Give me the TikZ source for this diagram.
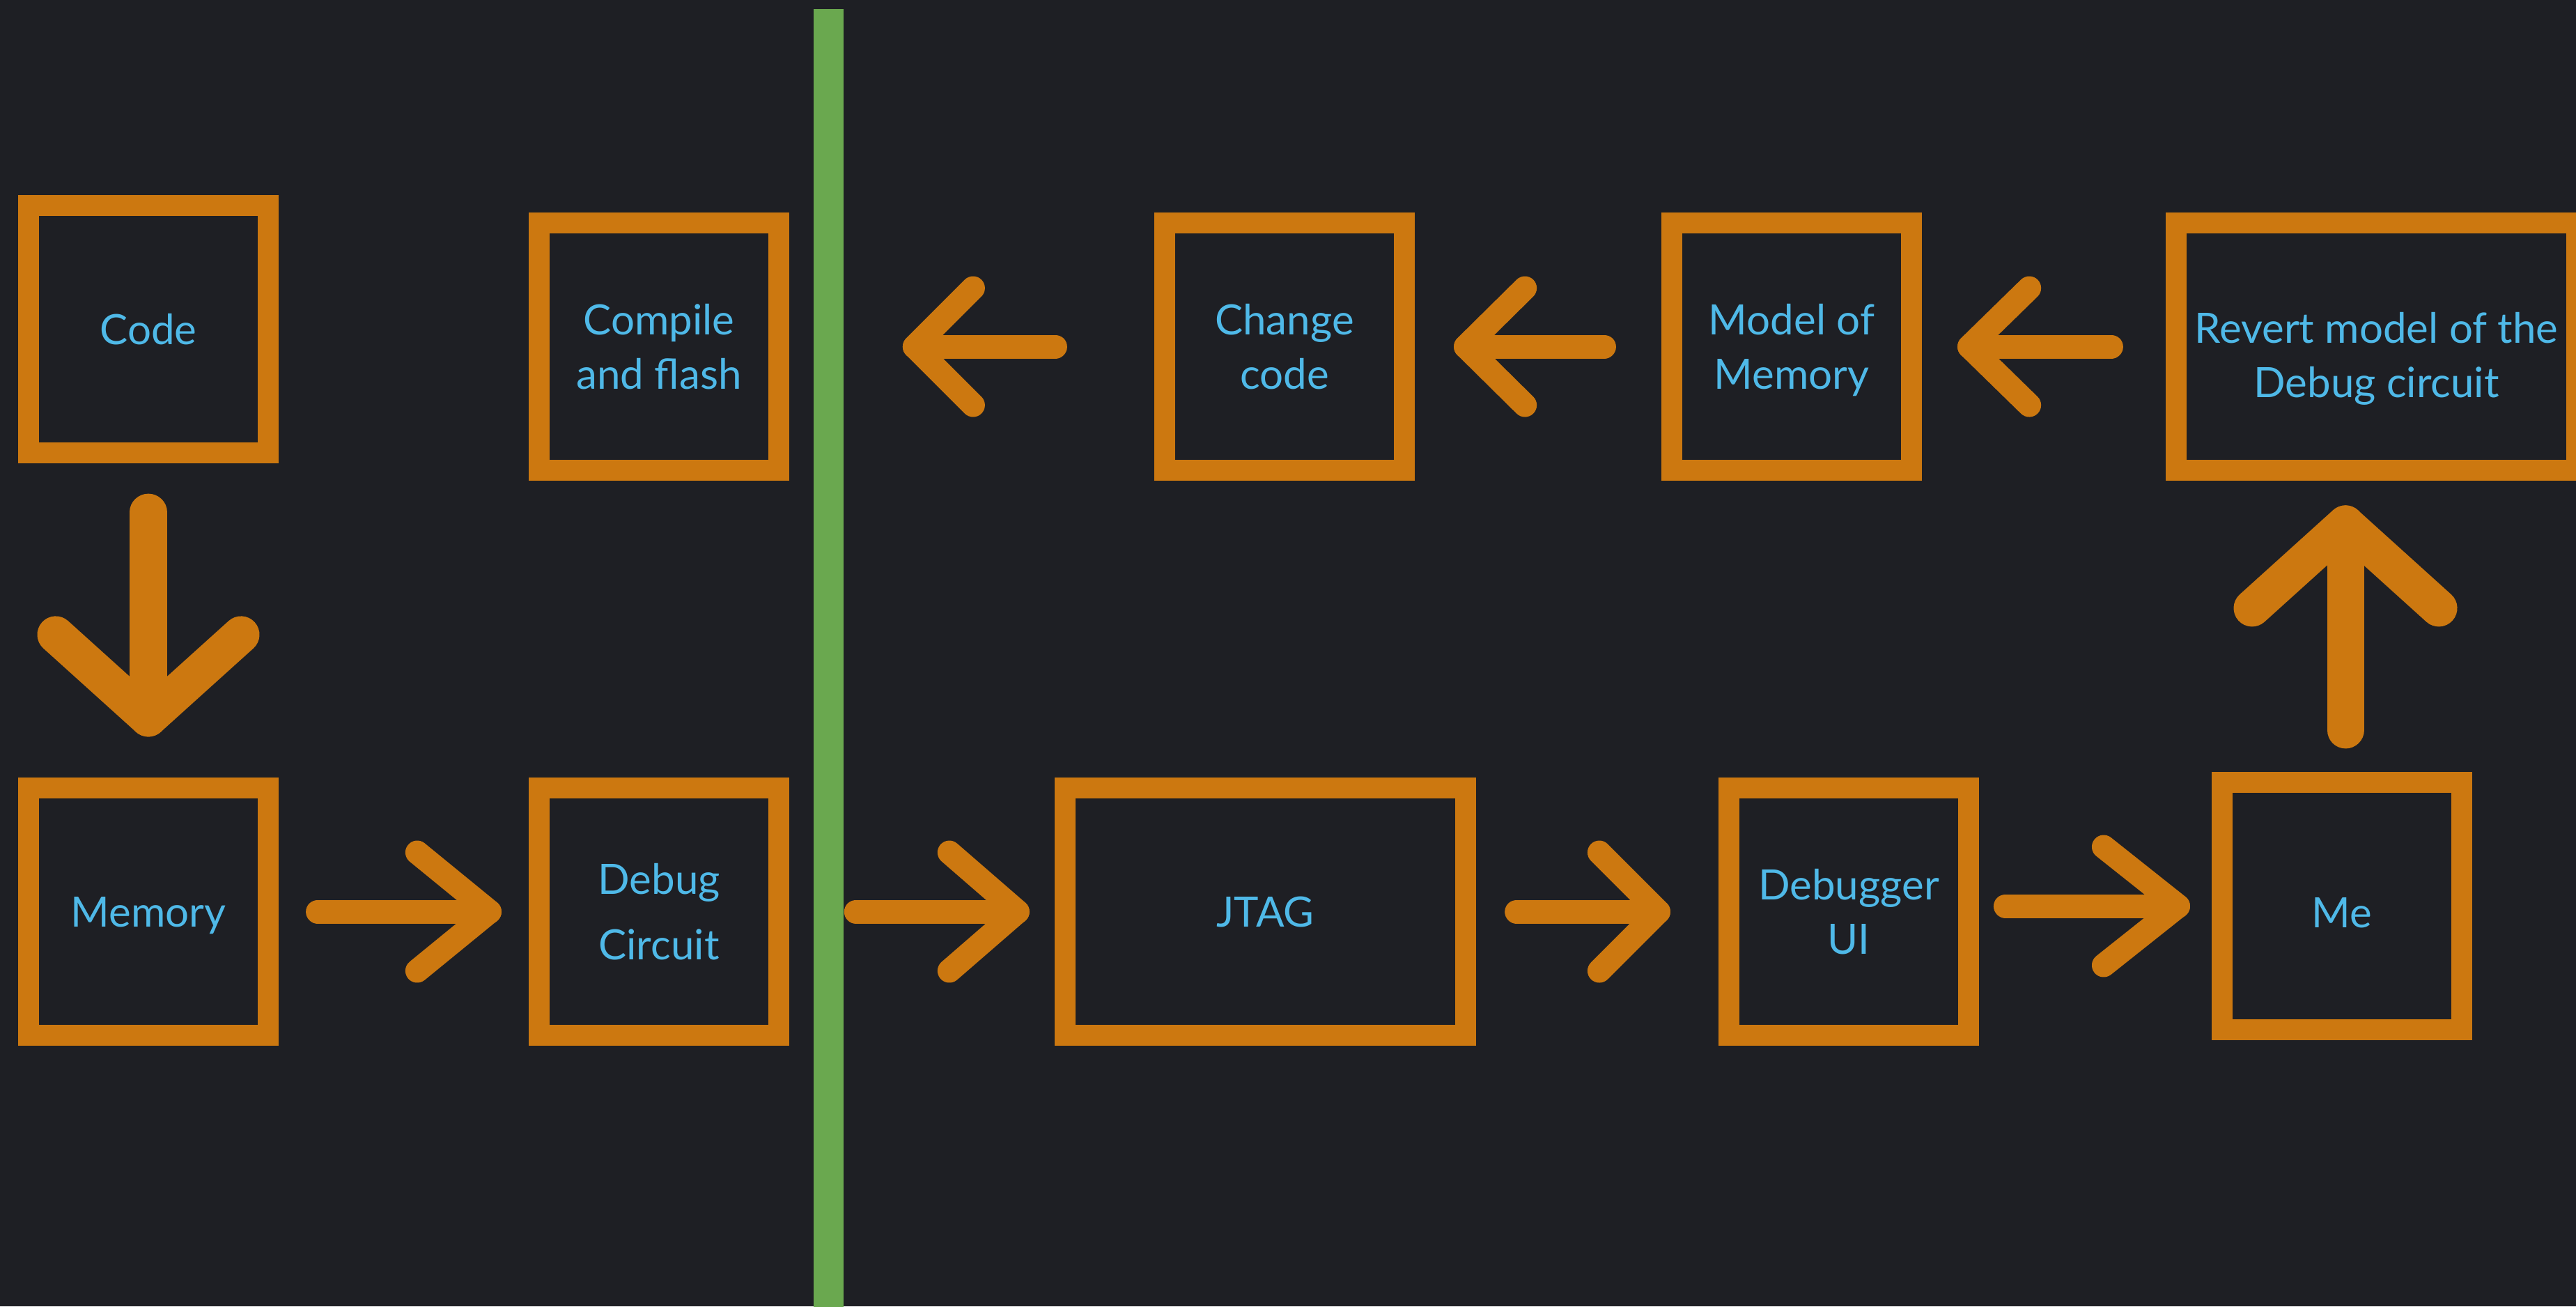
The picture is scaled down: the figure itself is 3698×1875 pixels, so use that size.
\documentclass[tikz,border=0pt]{standalone}
\usepackage{fontspec}
\setmainfont{Lato}
\usetikzlibrary{calc}
\definecolor{bg}{RGB}{30,31,36}
\definecolor{boxorange}{RGB}{204,120,16}
\definecolor{txtblue}{RGB}{79,185,232}
\definecolor{divgreen}{RGB}{106,168,79}
\begin{document}
\begin{tikzpicture}[x=0.01cm, y=-0.01cm,
  box/.style={draw=boxorange, line width=0.3cm, rectangle, inner sep=0pt, outer sep=0pt,
    minimum width=3.44cm, minimum height=3.55cm, text=txtblue, align=center,
    font=\fontsize{17.07pt}{22.19pt}\selectfont, text height=0.43cm, text depth=0cm},
  wide/.style={minimum width=5.75cm},
  two/.style={text height=1.21cm},
  harrow/.style={draw=boxorange, line width=0.34cm, line cap=round, line join=round},
  varrow/.style={draw=boxorange, line width=0.53cm, line cap=round, line join=round}]

\useasboundingbox (0,0) rectangle (3698,1875);
\fill[bg] (0,0) rectangle (3698,1875);
\clip (0,0) rectangle (3698,1875);

% divider
\fill[divgreen] (1168,13) rectangle (1211,1880);

% boxes
\node[box] (code) at (213,472.5) {Code};
\node[box,two] (compile) at (946,497.5) {Compile\\and flash};
\node[box,two] (change) at (1844,497.5) {Change\\code};
\node[box,two] (model) at (2572,497.5) {Model of\\Memory};
\node[box,wide,text height=1.46cm] (revert) at (3411.5,497.5) {Revert model of the\\Debug circuit};
\node[box] (memory) at (213,1308.5) {Memory};
\node[box,font=\fontsize{17.07pt}{26.75pt}\selectfont,text height=1.37cm] (dbgc) at (946,1308.5) {Debug\\Circuit};
\node[box,wide] (jtag) at (1816.5,1308.5) {JTAG};
\node[box,two] (dbgui) at (2654,1308.5) {Debugger\\UI};
\node[box,text height=0.62cm] (me) at (3362,1300.5) {Me};

% Code -> Memory (down)
\draw[varrow] ($(code.south)+(0,85)$) -- ($(memory.north)+(0,-100)$) coordinate (t6);
\draw[varrow] ($(t6)+(-133,-120)$) -- (t6) -- ($(t6)+(133,-120)$);

% Memory -> Debug Circuit
\draw[harrow] ($(memory.east)+(71,0)$) -- ($(dbgc.west)+(-71,0)$) coordinate (t1);
\draw[harrow] ($(t1)+(-104,-85)$) -- (t1) -- ($(t1)+(-104,85)$);

% -> JTAG
\draw[harrow] ($(jtag.west)+(-300,0)$) -- ($(jtag.west)+(-68,0)$) coordinate (t2);
\draw[harrow] ($(t2)+(-98,-85)$) -- (t2) -- ($(t2)+(-98,85)$);

% JTAG -> Debugger UI
\draw[harrow] ($(jtag.east)+(73,0)$) -- ($(dbgui.west)+(-101,0)$) coordinate (t3);
\draw[harrow] ($(t3)+(-85,-85)$) -- (t3) -- ($(t3)+(-85,85)$);

% Debugger UI -> Me
\draw[harrow] ($(me.west)+(-311,0)$) -- ($(me.west)+(-63,0)$) coordinate (t4);
\draw[harrow] ($(t4)+(-107,-85)$) -- (t4) -- ($(t4)+(-107,85)$);

% Me -> Revert (up)
\draw[varrow] ($(me.north)+(5,-75)$) -- ($(me.north)+(5,-371)$) coordinate (t5);
\draw[varrow] ($(t5)+(-134,121)$) -- (t5) -- ($(t5)+(134,121)$);

% Revert -> Model
\draw[harrow] ($(revert.west)+(-93,0)$) -- ($(model.east)+(83,0)$) coordinate (t7);
\draw[harrow] ($(t7)+(86,-84)$) -- (t7) -- ($(t7)+(86,84)$);

% Model -> Change
\draw[harrow] ($(model.west)+(-97,0)$) -- ($(change.east)+(88,0)$) coordinate (t8);
\draw[harrow] ($(t8)+(85,-84)$) -- (t8) -- ($(t8)+(85,84)$);

% Change -> (left)
\draw[harrow] ($(change.west)+(-157,0)$) -- ($(change.west)+(-359,0)$) coordinate (t9);
\draw[harrow] ($(t9)+(84,-84)$) -- (t9) -- ($(t9)+(84,84)$);
\end{tikzpicture}
\end{document}
